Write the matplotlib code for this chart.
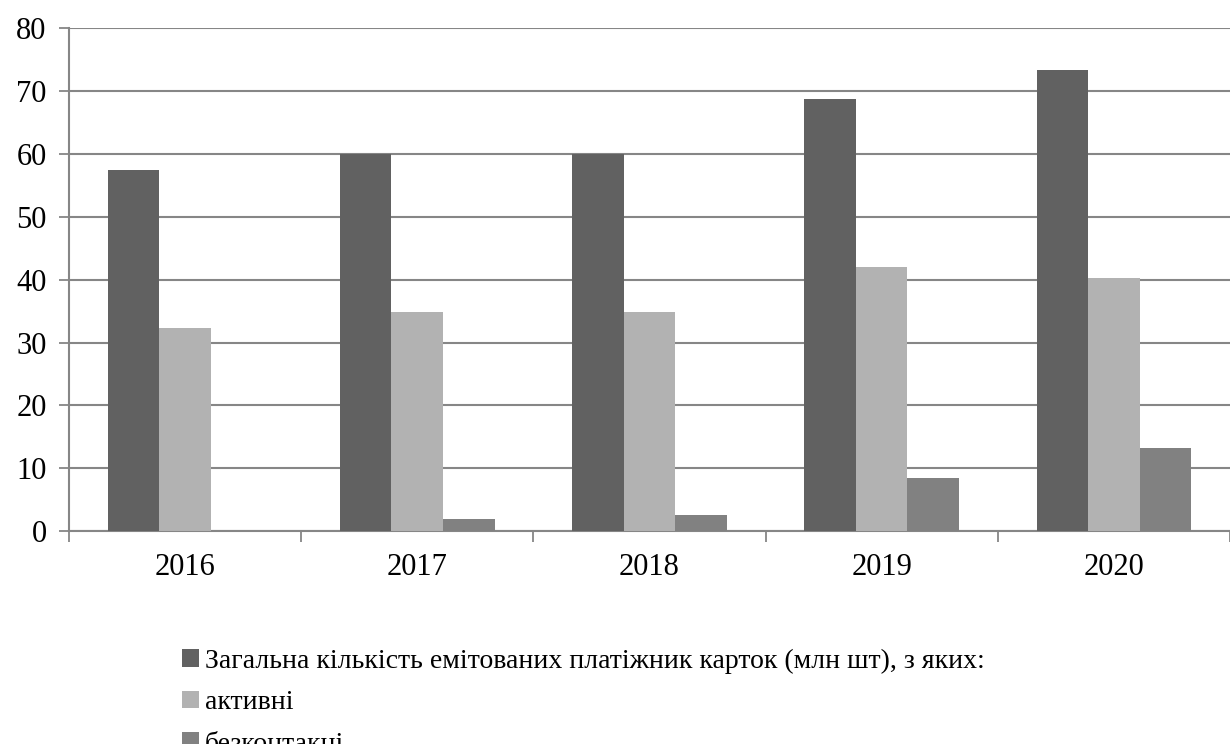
import matplotlib.pyplot as plt
import numpy as np

plt.rcParams['font.family'] = ['Liberation Serif', 'DejaVu Serif']

# Data
years = ['2016', '2017', '2018', '2019', '2020']
total = [57.5, 60.0, 60.0, 68.8, 73.3]
active = [32.3, 34.8, 34.8, 42.1, 40.3]
contactless = [0.0, 1.9, 2.6, 8.5, 13.2]

labels = ['Загальна кількість емітованих платіжник карток (млн шт), з яких:',
          'активні',
          'безконтакні']
colors = ['#616161', '#b2b2b2', '#818181']

fig = plt.figure(figsize=(12.3, 7.44), dpi=100)
ax = fig.add_axes([0.056, 0.286, 0.944, 0.676])

x = np.arange(len(years))
w = 0.222
bars = []
for i, (vals, c) in enumerate(zip([total, active, contactless], colors)):
    b = ax.bar(x + (i - 1) * w, vals, width=w, color=c, zorder=3)
    bars.append(b)

ax.set_xlim(-0.5, len(years) - 0.5)
ax.set_ylim(0, 80)
ax.set_yticks(range(0, 81, 10))
ax.yaxis.grid(True, color='#868686', linewidth=1.5, zorder=0)

# category ticks sit between groups
ax.set_xticks(np.arange(-0.5, len(years), 1.0))
ax.set_xticklabels([])
ax.set_xticks(x, minor=True)
ax.set_xticklabels(years, minor=True)
ax.tick_params(axis='x', which='major', length=8, width=1.3, color='#868686', direction='out')
ax.tick_params(axis='x', which='minor', length=0, pad=16, labelsize=22)
ax.tick_params(axis='y', length=7, width=1.3, color='#868686', labelsize=22, pad=9)

for s in ['top', 'right']:
    ax.spines[s].set_visible(False)
for s in ['left', 'bottom']:
    ax.spines[s].set_color('#868686')
    ax.spines[s].set_linewidth(1.5)

fig.legend(bars, labels, loc='upper left', bbox_to_anchor=(0.137, 0.147),
           frameon=False, fontsize=20, handlelength=0.6, handleheight=0.6,
           handletextpad=0.2, labelspacing=0.6, borderpad=0)

fig.savefig('out.png', dpi=100)
